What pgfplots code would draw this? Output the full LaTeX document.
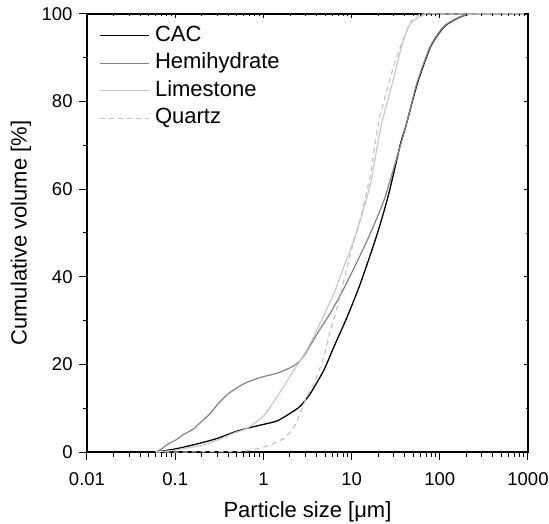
\documentclass[border=0pt]{standalone}
\usepackage{fontspec}
\setmainfont{Liberation Sans}
\usepackage{pgfplots}
\usepackage{pgfplotstable}
\pgfplotsset{compat=1.18}

\pgfplotstableread{
d v
0.06 0
0.07 0.2
0.088 0.5
0.1 0.7
0.124 1.1
0.19 2.0
0.3 3.1
0.46 4.5
0.65 5.4
1.0 6.3
1.43 7.1
2.0 8.8
2.63 10.5
3.42 13.4
4.85 18.7
6.3 24.0
8.93 30.9
12.6 38.5
19.6 49.9
26.5 59.1
36 70.5
41.1 74.3
55.8 84.2
79 92.6
112 97.1
158 99.0
200 99.8
250 100
900 100
}\cac

\pgfplotstableread{
d v
0.06 0
0.07 0.7
0.08 1.6
0.088 2.1
0.105 2.9
0.124 4.0
0.16 5.2
0.19 6.6
0.25 8.8
0.3 10.8
0.4 13.3
0.6 15.6
0.92 17.0
1.43 18.0
2.0 19.2
2.5 20.5
3.0 22.5
4.07 27.0
5.77 31.8
8.5 38.0
15.1 48.4
23.3 57.5
34.5 68.9
41 74.2
55 84.2
78 92.6
110 97.1
155 99.0
200 99.8
250 100
900 100
}\hemi

\pgfplotstableread{
d v
0.06 0
0.1 0.4
0.124 0.8
0.19 1.4
0.3 2.7
0.46 4.3
0.65 5.4
1.0 8.2
1.43 12.6
2.0 17.3
3.1 23.3
4.4 29.4
6.3 36.2
7.2 39.3
11.6 50.7
16.4 61.3
21.4 74.0
30.3 85.7
37.7 93.3
46.8 97.9
66 99.8
80 100
900 100
}\lime

\pgfplotstableread{
d v
0.06 0
0.5 0.1
0.8 0.6
1.1 1.4
1.7 3.1
2.3 6.2
3.0 11.9
3.9 16.4
4.85 21.8
5.77 27.9
6.9 33.2
9.75 45.4
13 54.5
16.4 63.5
20.5 75.8
31.6 89.5
46.8 98.2
60 99.9
70 100
900 100
}\quartz

\begin{document}
\begin{tikzpicture}
\begin{axis}[name=ax,
  scale only axis, width=441bp, height=438bp,
  xmode=log, log basis x=10,
  xmin=0.01, xmax=1000, ymin=0, ymax=100,
  xtick={0.01,0.1,1,10,100,1000},
  xticklabels={0.01,0.1,1,10,100,1000},
  minor xtick={0.02,0.03,0.04,0.05,0.06,0.07,0.08,0.09,
               0.2,0.3,0.4,0.5,0.6,0.7,0.8,0.9,
               2,3,4,5,6,7,8,9,20,30,40,50,60,70,80,90,
               200,300,400,500,600,700,800,900},
  ytick={0,20,40,60,80,100},
  yticklabels={0,20,40,60,80,100},
  minor ytick={10,30,50,70,90},
  xtick pos=left, ytick pos=left, tick align=outside,
  major tick length=8bp, minor tick length=4.5bp,
  axis line style={line width=1.1bp},
  every tick/.style={line width=1bp, black},
  /pgf/number format/assume math mode=true,
  ticklabel style={font=\fontsize{18.5bp}{22bp}\selectfont},
  xticklabel style={yshift=-9bp},
  yticklabel style={xshift=-3bp},
  xlabel={Particle size [μm]},
  ylabel={Cumulative volume [\%]},
  label style={font=\fontsize{22bp}{26bp}\selectfont},
  xlabel style={at={(axis description cs:0.5,-0.137)}, anchor=center},
  ylabel style={at={(axis description cs:-0.150,0.5)}, anchor=center},
  legend style={at={(axis description cs:0.0205,0.983)}, anchor=north west,
    draw=none, fill=none, font=\fontsize{22bp}{26bp}\selectfont,
    row sep=3.5bp,
    nodes={text height=16bp, text depth=5bp, inner sep=1.5bp},
    /tikz/every odd column/.append style={column sep=4bp}},
  legend cell align=left,
  legend image code/.code={\draw[#1] (0bp,0bp) -- (49bp,0bp);},
  clip=false,
]
\addplot[black, line width=1.3bp, smooth, tension=0.4] table[x=d,y=v] {\cac};
\addlegendentry{CAC}
\addplot[color={rgb,255:red,130;green,130;blue,130}, line width=1.2bp, smooth, tension=0.4] table[x=d,y=v] {\hemi};
\addlegendentry{Hemihydrate}
\addplot[color={rgb,255:red,200;green,200;blue,200}, line width=1.2bp, smooth, tension=0.4] table[x=d,y=v] {\lime};
\addlegendentry{Limestone}
\addplot[color={rgb,255:red,195;green,195;blue,195}, line width=1.2bp, dash pattern=on 5bp off 4bp, smooth, tension=0.4] table[x=d,y=v] {\quartz};
\addlegendentry{Quartz}
\end{axis}
\begin{axis}[
  scale only axis, width=441bp, height=438bp,
  xmode=log, log basis x=10,
  xmin=0.01, xmax=1000, ymin=0, ymax=100,
  xtick={0.01,0.1,1,10,100,1000},
  minor xtick={0.02,0.03,0.04,0.05,0.06,0.07,0.08,0.09,
               0.2,0.3,0.4,0.5,0.6,0.7,0.8,0.9,
               2,3,4,5,6,7,8,9,20,30,40,50,60,70,80,90,
               200,300,400,500,600,700,800,900},
  ytick={0,20,40,60,80,100},
  minor ytick={10,30,50,70,90},
  xticklabels={}, yticklabels={},
  xtick pos=right, ytick pos=right, tick align=inside,
  major tick length=4bp, minor tick length=2.5bp,
  axis line style={draw=none},
  every tick/.style={line width=0.8bp, black},
]
\end{axis}
\pgfresetboundingbox
\path (ax.south west) ++(-87bp,-72bp) rectangle ++(549bp,524bp);
\end{tikzpicture}
\end{document}
